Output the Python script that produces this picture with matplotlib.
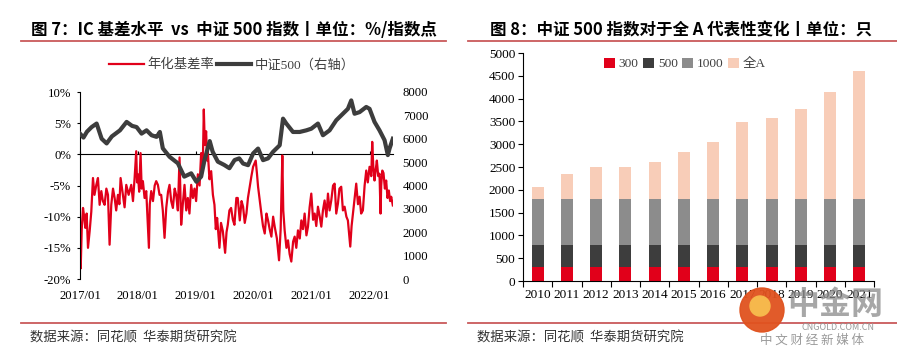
import numpy as np
import pandas as pd
import matplotlib
matplotlib.use('Agg')
import matplotlib.pyplot as plt
import matplotlib.dates as mdates
from matplotlib.lines import Line2D
from matplotlib.patches import Ellipse

# fig 7: annualised IC basis (%) and CSI 500 index (right axis)
basis_t = [2017.000, 2017.012, 2017.030, 2017.052, 2017.072, 2017.092, 2017.115, 2017.138,
           2017.167, 2017.195, 2017.224, 2017.250, 2017.282, 2017.310, 2017.339, 2017.368,
           2017.395, 2017.425, 2017.455, 2017.483, 2017.511, 2017.540, 2017.570, 2017.598,
           2017.625, 2017.655, 2017.680, 2017.701, 2017.741, 2017.770, 2017.799, 2017.840,
           2017.885, 2017.915, 2017.943, 2017.971, 2017.985, 2018.000, 2018.022, 2018.046,
           2018.065, 2018.086, 2018.115, 2018.144, 2018.190, 2018.205, 2018.230, 2018.260,
           2018.290, 2018.316, 2018.345, 2018.374, 2018.402, 2018.430, 2018.460, 2018.489,
           2018.520, 2018.546, 2018.575, 2018.604, 2018.635, 2018.661, 2018.690, 2018.719,
           2018.733, 2018.747, 2018.775, 2018.805, 2018.835, 2018.862, 2018.890, 2018.920,
           2018.950, 2018.977, 2019.005, 2019.035, 2019.065, 2019.092, 2019.120, 2019.138,
           2019.155, 2019.178, 2019.195, 2019.207, 2019.235, 2019.265, 2019.295, 2019.322,
           2019.345, 2019.368, 2019.408, 2019.435, 2019.466, 2019.506, 2019.530, 2019.552,
           2019.580, 2019.609, 2019.640, 2019.667, 2019.700, 2019.724, 2019.759, 2019.790,
           2019.816, 2019.845, 2019.874, 2019.900, 2019.931, 2019.960, 2019.989, 2020.034,
           2020.055, 2020.075, 2020.105, 2020.132, 2020.160, 2020.190, 2020.220, 2020.247,
           2020.275, 2020.305, 2020.335, 2020.362, 2020.400, 2020.437, 2020.465, 2020.494,
           2020.510, 2020.534, 2020.565, 2020.592, 2020.620, 2020.649, 2020.680, 2020.707,
           2020.735, 2020.764, 2020.795, 2020.822, 2020.850, 2020.879, 2020.910, 2020.937,
           2020.965, 2020.994, 2021.025, 2021.052, 2021.080, 2021.109, 2021.140, 2021.167,
           2021.195, 2021.224, 2021.255, 2021.282, 2021.310, 2021.339, 2021.370, 2021.397,
           2021.425, 2021.454, 2021.480, 2021.511, 2021.540, 2021.569, 2021.600, 2021.626,
           2021.667, 2021.690, 2021.713, 2021.740, 2021.770, 2021.800, 2021.828, 2021.855,
           2021.885, 2021.915, 2021.943, 2021.970, 2022.000, 2022.030, 2022.046, 2022.065,
           2022.086, 2022.106, 2022.126, 2022.150, 2022.172, 2022.190, 2022.201, 2022.220,
           2022.241, 2022.265, 2022.287, 2022.310, 2022.333, 2022.355, 2022.374, 2022.402]
basis_v = [-11.0, -18.3, -12.0, -8.6, -10.0, -11.8, -9.5, -15.0,
           -12.3, -9.2, -3.8, -6.5, -4.9, -3.8, -8.1, -5.9,
           -7.5, -8.1, -5.5, -6.5, -14.5, -8.1, -5.5, -7.0,
           -9.0, -6.5, -8.0, -3.8, -6.5, -8.5, -4.9, -6.5,
           -4.9, -7.5, -3.8, 0.5, -4.5, -3.2, -6.0, 0.2,
           -5.5, -4.3, -7.0, -5.9, -15.0, -8.0, -5.9, -7.5,
           -5.0, -4.3, -4.9, -6.5, -6.5, -9.0, -13.4, -8.6,
           -6.0, -4.9, -7.5, -8.6, -5.5, -6.5, -9.0, -0.5,
           -6.0, -11.3, -8.0, -4.9, -9.0, -7.0, -9.5, -4.9,
           -7.0, -5.5, -7.5, -3.2, -5.0, 0.2, -2.0, 7.2,
           1.5, 3.7, -1.0, 0.5, -4.0, -2.7, -6.5, -8.1,
           -12.0, -10.2, -15.0, -11.0, -12.3, -15.8, -12.5, -11.3,
           -9.0, -8.6, -10.5, -11.3, -7.0, -7.0, -10.6, -7.5,
           -8.4, -11.0, -9.5, -7.0, -5.2, -3.5, -2.0, -1.0,
           -3.0, -5.2, -7.5, -9.5, -11.5, -12.7, -9.5, -10.6,
           -12.0, -13.2, -10.0, -11.6, -13.5, -17.0, -12.0, -0.2,
           -9.0, -12.2, -15.0, -13.8, -16.0, -17.2, -14.0, -13.2,
           -15.0, -12.2, -13.5, -10.6, -12.0, -9.5, -13.0, -11.6,
           -8.5, -6.3, -10.5, -9.5, -11.5, -8.4, -10.0, -11.6,
           -9.0, -7.4, -10.0, -6.3, -9.0, -7.4, -5.0, -4.7,
           -9.5, -7.9, -5.5, -5.2, -9.0, -8.4, -10.0, -10.6,
           -14.8, -11.5, -9.5, -7.0, -4.7, -8.0, -6.8, -9.5,
           -9.0, -5.0, -2.6, -4.5, -2.0, -3.5, 2.0, -2.0,
           -4.2, -2.5, -1.0, -3.5, -3.1, -9.5, -5.0, -2.6,
           -3.0, -5.5, -4.2, -7.0, -5.8, -7.5, -6.8, -8.2]

csi_t = [2017.000, 2017.060, 2017.120, 2017.201, 2017.287, 2017.374, 2017.460, 2017.550,
         2017.690, 2017.805, 2017.900, 2017.977, 2018.063, 2018.149, 2018.236, 2018.322,
         2018.345, 2018.379, 2018.430, 2018.546, 2018.690, 2018.800, 2018.920, 2019.010,
         2019.092, 2019.150, 2019.240, 2019.290, 2019.380, 2019.490, 2019.580, 2019.670,
         2019.750, 2019.816, 2019.902, 2019.989, 2020.075, 2020.161, 2020.247, 2020.333,
         2020.448, 2020.506, 2020.563, 2020.678, 2020.793, 2020.908, 2020.994, 2021.109,
         2021.195, 2021.310, 2021.425, 2021.540, 2021.626, 2021.684, 2021.741, 2021.828,
         2021.943, 2022.000, 2022.086, 2022.172, 2022.259, 2022.316, 2022.345, 2022.402]
csi_v = [6220, 6050, 6300, 6500, 6650, 6000, 5800, 6100,
         6360, 6720, 6550, 6500, 6220, 6360, 6150, 6080,
         6160, 6290, 5590, 5230, 4950, 4380, 4520, 4160,
         4380, 5090, 5900, 5450, 5020, 4880, 4740, 5090,
         5160, 4940, 4870, 5370, 5580, 5085, 5160, 5440,
         5720, 6860, 6650, 6290, 6290, 6360, 6430, 6650,
         6150, 6360, 6790, 7070, 7280, 7640, 7070, 7140,
         7360, 7280, 6720, 6360, 5940, 5300, 5580, 6000]

# fig 8: number of stocks, stacked
years = ['2010', '2011', '2012', '2013', '2014', '2015', '2016', '2017', '2018', '2019', '2020', '2021']
n300 = [300] * 12
n500 = [500] * 12
n1000 = [1000] * 12
total_a = [2060, 2340, 2490, 2490, 2615, 2830, 3055, 3485, 3585, 3775, 4155, 4615]

RED = '#E1001A'
DARK = '#3D3D3D'
MID = '#8C8C8C'
PEACH = '#F8CDB8'
RULE = '#C9595B'
serif = ['Liberation Serif', 'Noto Sans CJK SC']
cjk = ['Noto Sans CJK SC', 'DejaVu Sans']


def to_date(y):
    y = np.asarray(y, dtype=float)
    return pd.Timestamp('2017-01-01') + pd.to_timedelta((y - 2017) * 365.25, unit='D')


fig = plt.figure(figsize=(8.97, 3.59), dpi=100)
W, H = 897, 359


def box(x0, y0, x1, y1):
    # pixel box (top-left origin) -> figure fraction rect
    return [x0 / W, 1 - y1 / H, (x1 - x0) / W, (y1 - y0) / H]


# ---------- left panel ----------
ax = fig.add_axes(box(80, 92, 393, 279))
ax.plot(to_date(basis_t), basis_v, color=RED, lw=1.6, label='年化基差率')
ax.set_ylim(-20, 10)
ax.set_yticks(range(-20, 11, 5))
ax.set_yticklabels([f'{v}%' for v in range(-20, 11, 5)], family=serif, fontsize=9.2)
ax.set_xlim(to_date(2017.0), to_date(2022.405))
year_ticks = pd.to_datetime([f'{y}-01-01' for y in range(2017, 2023)])
ax.set_xticks(year_ticks)
ax.xaxis.set_major_formatter(mdates.DateFormatter('%Y/%m'))
for lab in ax.get_xticklabels():
    lab.set_family(serif)
    lab.set_fontsize(9.2)
ax.tick_params(axis='x', length=0, pad=8)
ax.tick_params(axis='y', length=2.5, width=0.8, pad=4, direction='out')
for s in ['top', 'right', 'bottom']:
    ax.spines[s].set_visible(False)
ax.spines['left'].set_linewidth(0.8)

# axis line through 0% with yearly ticks
zero_loc = (0 - (-20)) / 30
sec = ax.secondary_xaxis(zero_loc)
sec.set_xticks(year_ticks)
sec.set_xticklabels([])
sec.tick_params(axis='x', length=2.5, width=0.8, direction='out', color='black')
sec.spines['bottom'].set_linewidth(0.9)
sec.spines['bottom'].set_color('black')

ax2 = ax.twinx()
ax2.plot(to_date(csi_t), csi_v, color=DARK, lw=3.0, solid_joinstyle='round', label='中证500（右轴）')
ax2.set_ylim(0, 8000)
ax2.set_yticks(range(0, 8001, 1000))
ax2.set_yticklabels([str(v) for v in range(0, 8001, 1000)], family=serif, fontsize=9.2)
ax2.tick_params(axis='y', length=0, pad=7)
for s in ax2.spines.values():
    s.set_visible(False)

h1, l1 = ax.get_legend_handles_labels()
h2, l2 = ax2.get_legend_handles_labels()
fig.legend(h1 + h2, l1 + l2, loc='center', bbox_to_anchor=(232 / W, 1 - 65 / H), ncol=2,
           frameon=False, prop={'family': serif, 'size': 9.6}, handlelength=2.6,
           handletextpad=0.25, columnspacing=0.2, labelcolor='#404040')

# ---------- right panel ----------
bx = fig.add_axes(box(523, 53, 874, 281))
x = np.arange(len(years))
bw = 0.41
bottom2 = np.array(n300)
bottom3 = bottom2 + np.array(n500)
bottom4 = bottom3 + np.array(n1000)
rest = np.array(total_a) - bottom4
bx.bar(x, n300, bw, color=RED, label='300')
bx.bar(x, n500, bw, bottom=bottom2, color=DARK, label='500')
bx.bar(x, n1000, bw, bottom=bottom3, color=MID, label='1000')
bx.bar(x, rest, bw, bottom=bottom4, color=PEACH, label='全A')
bx.set_xlim(-0.5, len(years) - 0.5)
bx.set_ylim(0, 5000)
bx.set_yticks(range(0, 5001, 500))
bx.set_yticklabels([str(v) for v in range(0, 5001, 500)], family=serif, fontsize=9.5)
bx.set_xticks(x)
bx.set_xticklabels(years, family=serif, fontsize=9.5)
bx.set_xticks(np.arange(-0.5, len(years)), minor=True)
bx.tick_params(axis='x', which='major', length=0, pad=6)
bx.tick_params(axis='x', which='minor', length=4, width=0.8, direction='out')
bx.tick_params(axis='y', length=3.5, width=0.8, pad=2, direction='out')
for s in ['top', 'right']:
    bx.spines[s].set_visible(False)
for s in ['left', 'bottom']:
    bx.spines[s].set_linewidth(0.8)
bx.legend(loc='center', bbox_to_anchor=(685 / W, 1 - 64 / H), bbox_transform=fig.transFigure,
          ncol=4, frameon=False, prop={'family': serif, 'size': 9.6}, handlelength=0.8,
          handleheight=0.8, handletextpad=0.3, columnspacing=0.35, labelcolor='#404040')

# ---------- titles, rules, sources ----------
title_kw = dict(ha='center', va='center', family=cjk, fontsize=11.9, fontweight='bold', color='black')
fig.text(234 / W, 1 - 30 / H, '图 7：IC 基差水平  vs  中证 500 指数丨单位：%/指数点', **title_kw)
fig.text(681 / W, 1 - 30 / H, '图 8：中证 500 指数对于全 A 代表性变化丨单位：只', **title_kw)
for y in [41, 323]:
    fig.add_artist(Line2D([21 / W, 446 / W], [1 - y / H] * 2, color=RULE, lw=1.3))
    fig.add_artist(Line2D([468 / W, 1.0], [1 - y / H] * 2, color=RULE, lw=1.3))
src_kw = dict(ha='left', va='center', family=cjk, fontsize=9.6, color='#333333')
fig.text(30 / W, 1 - 338 / H, '数据来源：同花顺  华泰期货研究院', **src_kw)
fig.text(477 / W, 1 - 338 / H, '数据来源：同花顺  华泰期货研究院', **src_kw)

# watermark
fig.add_artist(Ellipse((762 / W, 1 - 310 / H), 44 / W, 44 / H, transform=fig.transFigure,
                       color='#E0521E', alpha=0.95, zorder=10))
fig.add_artist(Ellipse((760 / W, 1 - 306 / H), 20 / W, 20 / H, transform=fig.transFigure,
                       color='#F6B84C', zorder=11))
fig.text(835 / W, 1 - 305 / H, '中金网', ha='center', va='center', family=cjk, fontsize=23,
         fontweight='bold', color='#8A8A8A', alpha=0.75, zorder=10)
fig.text(838 / W, 1 - 328 / H, 'CNGOLD.COM.CN', ha='center', va='center', family=cjk,
         fontsize=6.5, color='#9A9A9A', zorder=10)
fig.text(812 / W, 1 - 340 / H, '中 文 财 经 新 媒 体', ha='center', va='center', family=cjk,
         fontsize=9, color='#9A9A9A', zorder=10)

fig.savefig('out.png', dpi=100)
